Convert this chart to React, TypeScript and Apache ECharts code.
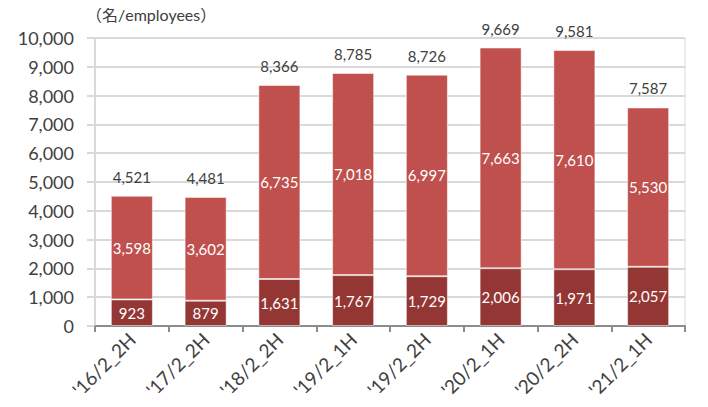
import React, { useEffect, useRef } from "react";
import * as echarts from "echarts";

const categories = ["'16/2_2H", "'17/2_2H", "'18/2_2H", "'19/2_1H", "'19/2_2H", "'20/2_1H", "'20/2_2H", "'21/2_1H"];
const bottomValues = [923, 879, 1631, 1767, 1729, 2006, 1971, 2057];
const topValues = [3598, 3602, 6735, 7018, 6997, 7663, 7610, 5530];
const totals = [4521, 4481, 8366, 8785, 8726, 9669, 9581, 7587];
const unitLabel = "（名/employees）";

const fmt = (v: number) => v.toLocaleString("en-US");
const FONT = "Lato, 'Noto Sans CJK JP', sans-serif";

export default function App() {
  const ref = useRef<HTMLDivElement>(null);
  useEffect(() => {
    if (!ref.current) return;
    const chart = echarts.init(ref.current, undefined, { renderer: "svg" });
    chart.setOption({
      animation: false,
      textStyle: { fontFamily: FONT },
      grid: { left: 95, right: 23, top: 38, bottom: 81, show: true, borderColor: "#d9d9d9", borderWidth: 1 },
      graphic: [
        {
          type: "text",
          left: 86,
          top: 6,
          style: { text: unitLabel, fontSize: 16, fill: "#404040", fontFamily: FONT },
        },
      ],
      xAxis: {
        type: "category",
        data: categories,
        axisLine: { lineStyle: { color: "#8c8c8c", width: 2 } },
        axisTick: { show: true, length: 6, lineStyle: { color: "#8c8c8c", width: 2 } },
        axisLabel: { rotate: 45, fontSize: 19, color: "#404040", fontFamily: FONT, margin: 10 },
      },
      yAxis: {
        type: "value",
        min: 0,
        max: 10000,
        interval: 1000,
        axisLine: { show: true, lineStyle: { color: "#d9d9d9", width: 2 } },
        axisTick: { show: true, length: 8, lineStyle: { color: "#d9d9d9", width: 2 } },
        splitLine: { lineStyle: { color: "#d9d9d9", width: 2 } },
        axisLabel: { fontSize: 18, color: "#404040", fontFamily: FONT, margin: 21, formatter: (v: number) => fmt(v) },
      },
      series: [
        {
          type: "bar",
          stack: "a",
          data: bottomValues,
          barWidth: "57%",
          itemStyle: { color: "#943634", borderColor: "rgba(255,255,255,0.5)", borderWidth: 1 },
          label: { show: true, position: "inside", color: "#fff", fontSize: 15, fontFamily: FONT, formatter: (p: any) => fmt(p.value) },
        },
        {
          type: "bar",
          stack: "a",
          data: topValues,
          itemStyle: { color: "#C0504D", borderColor: "rgba(255,255,255,0.5)", borderWidth: 1 },
          label: { show: true, position: "inside", color: "#fff", fontSize: 15, fontFamily: FONT, formatter: (p: any) => fmt(p.value) },
        },
        {
          type: "line",
          data: totals,
          symbol: "circle",
          symbolSize: 1,
          showSymbol: true,
          itemStyle: { color: "rgba(0,0,0,0)" },
          lineStyle: { width: 0, opacity: 0 },
          label: { show: true, position: "top", distance: 11, color: "#404040", fontSize: 15, fontFamily: FONT, formatter: (p: any) => fmt(p.value) },
          z: 5,
        },
      ],
    });
    return () => chart.dispose();
  }, []);
  return <div ref={ref} style={{ width: 708, height: 407, margin: -8 }} />;
}
